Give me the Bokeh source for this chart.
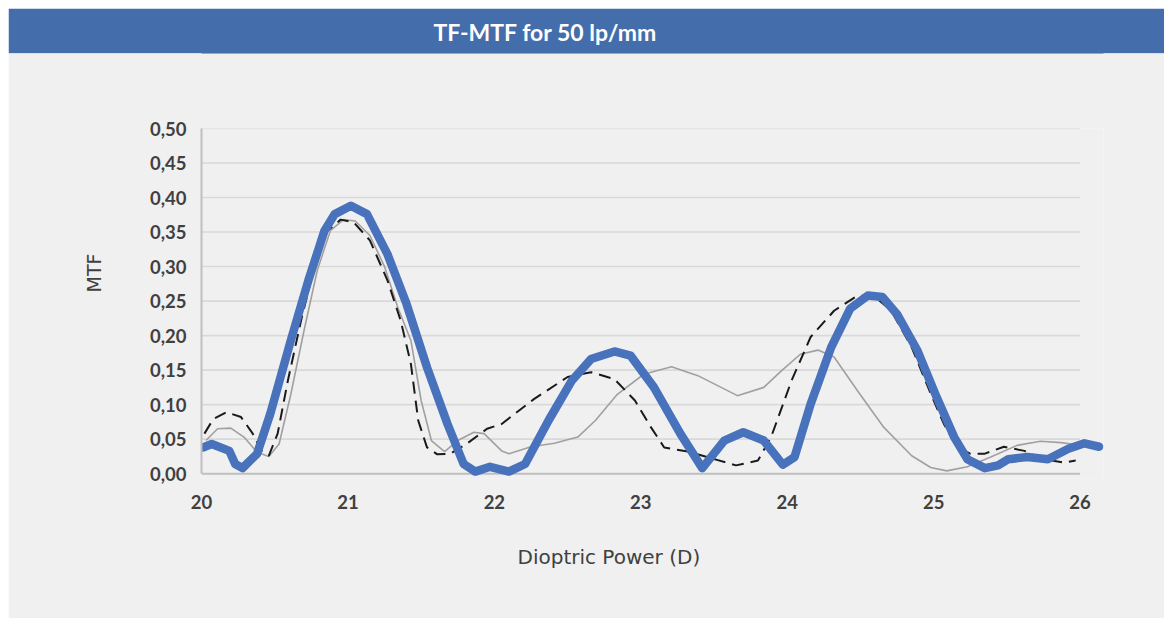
from bokeh.plotting import figure
from bokeh.models import Range1d, Title, FixedTicker, CustomJSTickFormatter
from bokeh.layouts import column
from bokeh.embed import file_html
from bokeh.resources import INLINE

# ---------------- data ----------------
chart_title = "TF-MTF for 50 lp/mm"
x_label = "Dioptric Power (D)"
y_label = "MTF"
x_ticks = [20, 21, 22, 23, 24, 25, 26]
y_ticks = [0.0, 0.05, 0.10, 0.15, 0.20, 0.25, 0.30, 0.35, 0.40, 0.45, 0.50]

blue_x = [20.01, 20.07, 20.19, 20.23, 20.28, 20.38, 20.47, 20.61, 20.73, 20.84, 20.91, 21.02,
          21.13, 21.27, 21.40, 21.54, 21.68, 21.79, 21.87, 21.97, 22.10, 22.21, 22.37, 22.53,
          22.66, 22.82, 22.93, 23.09, 23.27, 23.42, 23.57, 23.70, 23.84, 23.97, 24.05, 24.16,
          24.30, 24.43, 24.55, 24.65, 24.75, 24.89, 25.02, 25.14, 25.23, 25.35, 25.44, 25.51,
          25.64, 25.78, 25.92, 26.03, 26.13]
blue_y = [0.038, 0.043, 0.033, 0.014, 0.008, 0.029, 0.087, 0.193, 0.280, 0.352, 0.376, 0.388,
          0.376, 0.318, 0.246, 0.154, 0.072, 0.014, 0.003, 0.010, 0.003, 0.014, 0.077, 0.135,
          0.166, 0.177, 0.171, 0.125, 0.058, 0.008, 0.048, 0.060, 0.048, 0.013, 0.024, 0.101,
          0.183, 0.239, 0.258, 0.256, 0.231, 0.178, 0.111, 0.053, 0.021, 0.008, 0.012, 0.021,
          0.024, 0.021, 0.036, 0.044, 0.039]

dash_x = [20.02, 20.08, 20.17, 20.27, 20.35, 20.41, 20.46, 20.52, 20.59, 20.68, 20.77, 20.86,
          20.95, 21.04, 21.15, 21.27, 21.36, 21.43, 21.48, 21.54, 21.61, 21.70, 21.81, 21.95,
          22.05, 22.27, 22.50, 22.66, 22.82, 22.96, 23.07, 23.16, 23.32, 23.52, 23.65, 23.80,
          23.89, 24.03, 24.16, 24.32, 24.48, 24.60, 24.71, 24.85, 24.98, 25.07, 25.16, 25.25,
          25.35, 25.48, 25.62, 25.75, 25.89, 25.97]
dash_y = [0.058, 0.079, 0.089, 0.082, 0.058, 0.033, 0.026, 0.058, 0.135, 0.222, 0.299, 0.352,
          0.368, 0.364, 0.338, 0.280, 0.222, 0.159, 0.077, 0.038, 0.028, 0.029, 0.043, 0.065,
          0.072, 0.108, 0.140, 0.147, 0.137, 0.106, 0.067, 0.038, 0.032, 0.020, 0.012, 0.019,
          0.053, 0.135, 0.198, 0.236, 0.258, 0.256, 0.236, 0.183, 0.116, 0.072, 0.038, 0.029,
          0.029, 0.039, 0.033, 0.021, 0.016, 0.019]

gray_x = [20.03, 20.11, 20.20, 20.29, 20.38, 20.46, 20.53, 20.61, 20.70, 20.79, 20.88, 20.97,
          21.05, 21.15, 21.25, 21.34, 21.43, 21.50, 21.57, 21.66, 21.75, 21.86, 21.93, 22.05,
          22.10, 22.25, 22.41, 22.57, 22.69, 22.84, 23.02, 23.21, 23.39, 23.66, 23.84, 23.96,
          24.09, 24.21, 24.32, 24.48, 24.66, 24.85, 24.98, 25.09, 25.23, 25.39, 25.57, 25.73,
          25.87, 25.98]
gray_y = [0.048, 0.065, 0.066, 0.053, 0.031, 0.025, 0.043, 0.115, 0.207, 0.294, 0.352, 0.368,
          0.366, 0.345, 0.300, 0.241, 0.193, 0.106, 0.048, 0.032, 0.048, 0.060, 0.058, 0.033,
          0.029, 0.039, 0.044, 0.053, 0.077, 0.115, 0.144, 0.155, 0.142, 0.113, 0.125, 0.149,
          0.173, 0.179, 0.169, 0.120, 0.067, 0.026, 0.009, 0.004, 0.010, 0.024, 0.041, 0.047,
          0.045, 0.042]

BG = "#F0F0F0"
BAR = "#436DAB"
TXT = "#404040"

W = 1156
LEFT, RIGHT = 193, 61

# ---------------- title bar (no frame area, title drawn in border panel) ----------------
bar_h = 45
bar = figure(width=W, height=bar_h, output_backend="svg", toolbar_location=None,
             min_border_left=LEFT, min_border_right=RIGHT, min_border_top=bar_h,
             min_border_bottom=0)
bar.axis.visible = False
bar.grid.visible = False
bar.outline_line_color = None
bar.background_fill_color = BAR
bar.border_fill_color = BAR
bt = Title(text=chart_title, align="left", offset=232, text_font="Lato", text_font_style="bold",
           text_font_size="23px", text_color="white", standoff=16)
bar.add_layout(bt, "above")

# ---------------- chart ----------------
H = 565
p = figure(width=W, height=H, x_range=Range1d(20, 26.16), y_range=Range1d(-0.007, 0.5),
           output_backend="svg", toolbar_location=None,
           min_border_left=LEFT, min_border_right=RIGHT, min_border_top=75, min_border_bottom=140)
p.background_fill_color = BG
p.border_fill_color = BG
p.outline_line_color = None
p.grid.visible = False

# horizontal gridlines (within 20..26)
grid_y = [t for t in y_ticks if t > 0]
p.segment(x0=[x_ticks[0]] * len(grid_y), x1=[x_ticks[-1]] * len(grid_y), y0=grid_y, y1=grid_y,
          line_color="#D9D9D9", line_width=1.6)
p.segment(x0=[x_ticks[0]], x1=[x_ticks[-1]], y0=[0], y1=[0], line_color="#BFBFBF", line_width=2)

p.line(gray_x, gray_y, line_color="#A0A0A0", line_width=1.6)
p.line(dash_x, dash_y, line_color="#1A1A1A", line_width=2, line_dash="12 7")
p.line(blue_x, blue_y, line_color="#4872BC", line_width=8.5, line_cap="round", line_join="round")

p.xaxis.ticker = FixedTicker(ticks=x_ticks)
p.yaxis.ticker = FixedTicker(ticks=y_ticks)
p.yaxis.formatter = CustomJSTickFormatter(code="return tick.toFixed(2).replace('.', ',');")
p.yaxis.bounds = (0, 0.5)
p.xaxis.bounds = (20, 26)
p.xaxis.axis_line_color = None
p.yaxis.axis_line_color = "#BFBFBF"
p.yaxis.axis_line_width = 2
for ax in (p.xaxis, p.yaxis):
    ax.major_tick_line_color = None
    ax.minor_tick_line_color = None
    ax.major_label_text_font = "Lato"
    ax.major_label_text_font_style = "bold"
    ax.major_label_text_font_size = "18.5px"
    ax.major_label_text_color = TXT
p.xaxis.major_label_standoff = 10
p.yaxis.major_label_standoff = 9

xt = Title(text=x_label, align="left", offset=316, text_font="DejaVu Sans", text_font_style="normal",
           text_font_size="20px", text_color=TXT, standoff=62)
p.add_layout(xt, "below")
yt = Title(text=y_label, align="left", offset=186, text_font="DejaVu Sans", text_font_style="normal",
           text_font_size="19px", text_color=TXT, standoff=84)
p.add_layout(yt, "left")

layout = column(bar, p, spacing=0, margin=(8, 0, 0, 8))
open("out.html", "w").write(file_html(layout, INLINE))
